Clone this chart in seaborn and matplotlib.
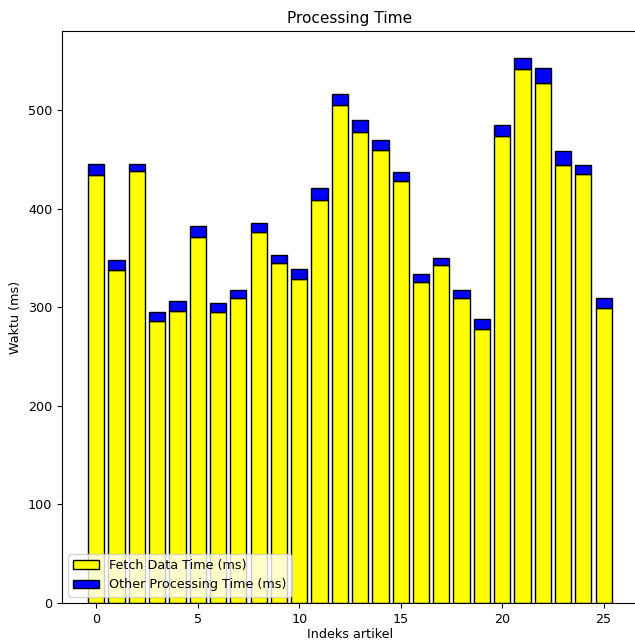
import matplotlib
matplotlib.use("Agg")
import matplotlib.pyplot as plt
import seaborn as sns
import pandas as pd
import numpy as np

indices = list(range(26))
fetch_time = [434, 338, 438, 286, 296, 371, 295, 310, 377, 345, 329, 409, 505,
              478, 460, 428, 326, 343, 310, 278, 474, 542, 528, 445, 435, 299]
other_time = [12, 10, 8, 9, 11, 12, 10, 8, 9, 8, 10, 12, 12,
              12, 10, 9, 8, 7, 8, 10, 11, 11, 15, 14, 10, 11]

df = pd.DataFrame({"idx": indices, "fetch": fetch_time, "other": other_time})

plt.rcParams["font.size"] = 9.2

fig = plt.figure(figsize=(6.35, 6.41), dpi=100)
ax = fig.add_axes([0.0976, 0.0593, 0.907, 0.8924])

sns.barplot(data=df, x="idx", y="fetch", native_scale=True, color="yellow",
            edgecolor="black", linewidth=1, saturation=1, ax=ax,
            label="Fetch Data Time (ms)", errorbar=None)
sns.barplot(data=df, x="idx", y="other", native_scale=True, color="blue",
            edgecolor="black", linewidth=1, saturation=1, ax=ax,
            label="Other Processing Time (ms)", errorbar=None,
            bottom=df["fetch"].to_numpy())

ax.set_title("Processing Time")
ax.set_xlabel("Indeks artikel", labelpad=1.5)
ax.set_ylabel("Waktu (ms)")
ax.legend(loc="lower left")

fig.savefig("out.png", dpi=100)
